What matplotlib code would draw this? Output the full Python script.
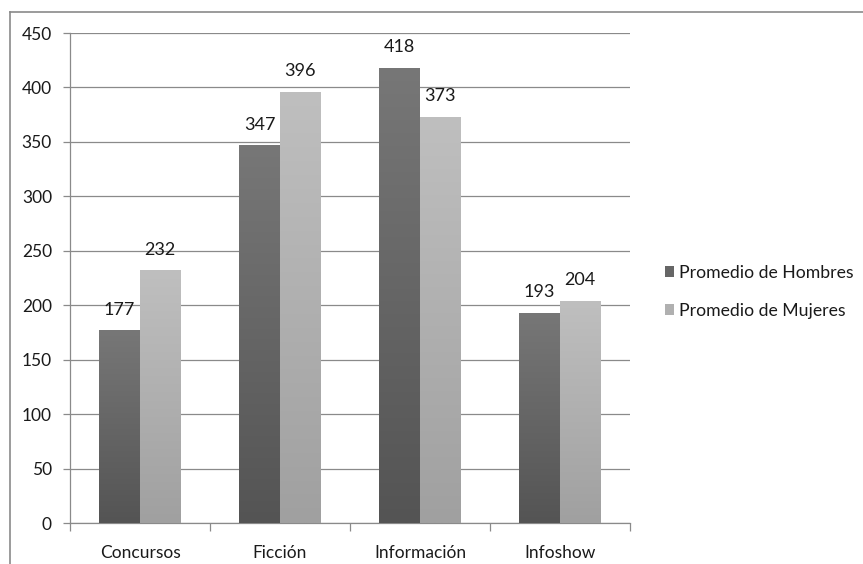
import numpy as np
import matplotlib
matplotlib.use("Agg")
import matplotlib.pyplot as plt
from matplotlib.lines import Line2D
from matplotlib.patches import Patch
from matplotlib.colors import LinearSegmentedColormap

categories = ["Concursos", "Ficción", "Información", "Infoshow"]
hombres = [177, 347, 418, 193]
mujeres = [232, 396, 373, 204]
series_names = ["Promedio de Hombres", "Promedio de Mujeres"]
y_ticks = [0, 50, 100, 150, 200, 250, 300, 350, 400, 450]

plt.rcParams["font.family"] = ["Lato", "DejaVu Sans"]

W, H, DPI = 863, 564, 100
fig = plt.figure(figsize=(W / DPI, H / DPI), dpi=DPI)
ax = fig.add_axes([70 / W, 1 - 523 / H, 560 / W, 490 / H])

grid_col = "#8a8a8a"
dark_grad = LinearSegmentedColormap.from_list("dk", ["#545454", "#777777"])
light_grad = LinearSegmentedColormap.from_list("lt", ["#a0a0a0", "#bfbfbf"])

x = np.arange(len(categories))
bw = 0.29
bars_h = ax.bar(x - bw / 2, hombres, bw, color="none", zorder=3)
bars_m = ax.bar(x + bw / 2, mujeres, bw, color="none", zorder=3)

ax.set_xlim(-0.5, len(categories) - 0.5)
ax.set_ylim(0, 450)

# vertical gradient fill for every bar
grad = np.linspace(0, 1, 256).reshape(-1, 1)
for bars, cmap in ((bars_h, dark_grad), (bars_m, light_grad)):
    for r in bars:
        x0, y0 = r.get_x(), r.get_y()
        w, h = r.get_width(), r.get_height()
        im = ax.imshow(grad, cmap=cmap, origin="lower", aspect="auto",
                       extent=(x0, x0 + w, y0, y0 + h), zorder=3,
                       interpolation="bilinear")
        im.set_clip_path(r)
ax.set_xlim(-0.5, len(categories) - 0.5)
ax.set_ylim(0, 450)

# value labels
for bars, vals in ((bars_h, hombres), (bars_m, mujeres)):
    for r, v in zip(bars, vals):
        ax.annotate(f"{v}", (r.get_x() + r.get_width() / 2, v),
                    xytext=(0, 9), textcoords="offset points",
                    ha="center", va="bottom", fontsize=13, color="#1a1a1a",
                    zorder=5)

ax.set_yticks(y_ticks)
ax.set_yticklabels([str(t) for t in y_ticks])
ax.yaxis.grid(True, color=grid_col, linewidth=0.9, zorder=0)
ax.set_axisbelow(True)

ax.set_xticks(x)
ax.set_xticklabels(categories)
ax.set_xticks(np.arange(-0.5, len(categories)), minor=True)
ax.tick_params(axis="x", which="major", length=0, pad=16, labelsize=12.5,
               labelcolor="#1a1a1a")
ax.tick_params(axis="x", which="minor", length=5.5, width=0.9, color=grid_col,
               direction="out")
ax.tick_params(axis="y", length=5, width=0.9, color=grid_col, pad=8,
               labelsize=12.5, labelcolor="#1a1a1a")

for s in ("top", "right"):
    ax.spines[s].set_visible(False)
for s in ("left", "bottom"):
    ax.spines[s].set_color(grid_col)
    ax.spines[s].set_linewidth(0.9)

handles = [Patch(facecolor="#666666", edgecolor="none"),
           Patch(facecolor="#b0b0b0", edgecolor="none")]
fig.legend(handles, series_names, loc="center left",
           bbox_to_anchor=(665 / W, 1 - 292 / H), frameon=False,
           fontsize=12.7, handlelength=0.5, handleheight=0.55,
           handletextpad=0.3, labelspacing=1.25, borderaxespad=0,
           borderpad=0, labelcolor="#1a1a1a")

# outer chart frame
fig.add_artist(Line2D([9.5 / W, 1], [1 - 11.5 / H, 1 - 11.5 / H],
                      transform=fig.transFigure, color=grid_col, lw=1.2))
fig.add_artist(Line2D([9.5 / W, 9.5 / W], [0, 1 - 11.5 / H],
                      transform=fig.transFigure, color=grid_col, lw=1.2))

fig.savefig("out.png", dpi=DPI)
